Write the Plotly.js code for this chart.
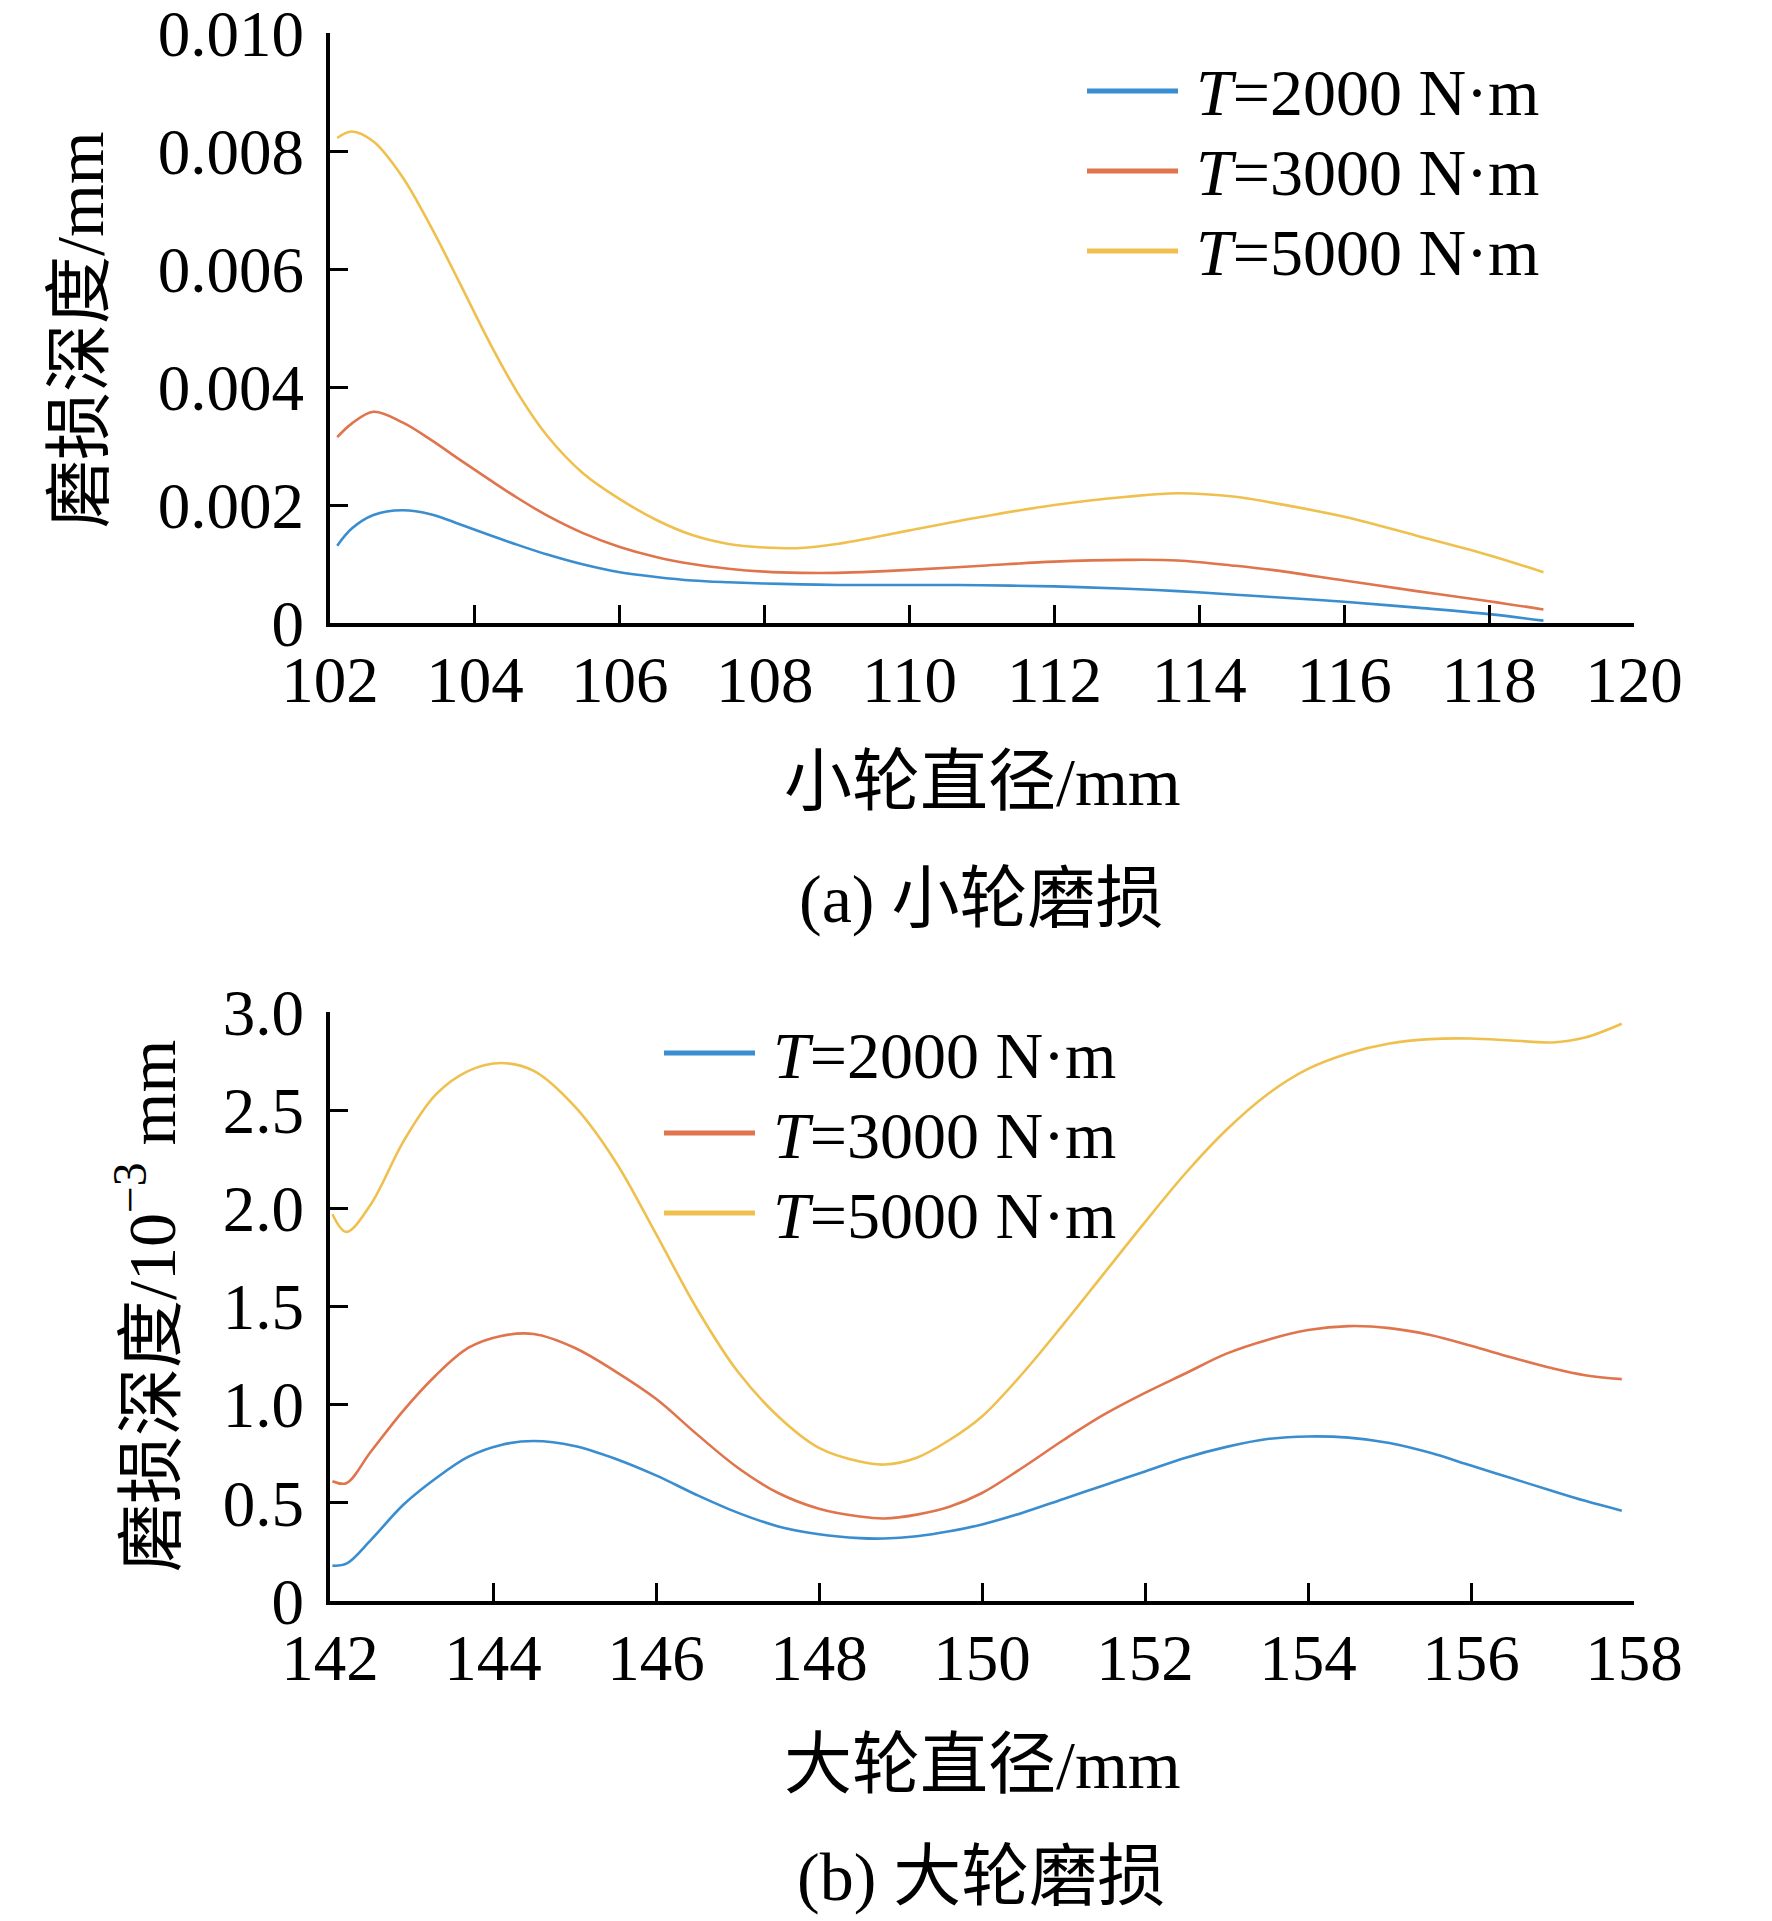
<!DOCTYPE html>
<html>
<head>
<meta charset="utf-8">
<script src="https://cdn.plot.ly/plotly-3.0.1.min.js"></script>
<style>
  html, body { margin: 0; padding: 0; background: #fff; }
  #chart { width: 1772px; height: 1921px; }
</style>
</head>
<body>
<div id="chart"></div>
<script>
// (a) small wheel: diameter (mm) vs wear depth (mm)
var smallD = [102.1, 102.3, 102.6, 103, 103.4, 103.8, 104.2, 104.6, 105, 105.5, 106, 106.5, 107, 107.5,
              108, 108.5, 109, 109.5, 110, 111, 112, 113, 113.7, 114.5, 115, 116, 117, 118, 118.75];
var small2000 = [0.00131, 0.00160, 0.00183, 0.00191, 0.00184, 0.00167, 0.00149, 0.00132, 0.00116, 0.00099,
                 0.00086, 0.00078, 0.00072, 0.00069, 0.00067, 0.000655, 0.000645, 0.000645, 0.000645, 0.00064,
                 0.00062, 0.00058, 0.00054, 0.00048, 0.00044, 0.00036, 0.00026, 0.00015, 0.00004];
var small3000 = [0.00315, 0.00338, 0.00358, 0.00340, 0.00310, 0.00276, 0.00243, 0.00211, 0.00182, 0.00152,
                 0.00129, 0.00112, 0.00100, 0.00092, 0.00087, 0.00085, 0.00085, 0.00087, 0.00090, 0.00097,
                 0.00104, 0.00107, 0.00106, 0.00097, 0.00090, 0.00072, 0.00054, 0.00037, 0.00023];
var small5000 = [0.00822, 0.00833, 0.00816, 0.00756, 0.00670, 0.00574, 0.00476, 0.00388, 0.00317, 0.00253,
                 0.00210, 0.00175, 0.00149, 0.00134, 0.00128, 0.00127, 0.00134, 0.00145, 0.00157, 0.00180,
                 0.00200, 0.00214, 0.00220, 0.00214, 0.00204, 0.00180, 0.00148, 0.00115, 0.00086];

// (b) large wheel: diameter (mm) vs wear depth (10^-3 mm)
var largeD = [142.03, 142.2, 142.5, 142.9, 143.3, 143.7, 144.1, 144.5, 145, 145.5, 146, 146.5, 147, 147.5,
              148, 148.5, 148.8, 149.2, 149.6, 150, 150.5, 151, 151.5, 152, 152.5, 153, 153.5, 154, 154.5,
              155, 155.5, 156, 156.5, 157, 157.4, 157.85];
var large2000 = [0.18, 0.19, 0.31, 0.49, 0.625, 0.735, 0.795, 0.815, 0.79, 0.725, 0.64, 0.54, 0.45, 0.38,
                 0.34, 0.32, 0.318, 0.33, 0.355, 0.39, 0.45, 0.52, 0.59, 0.66, 0.73, 0.785, 0.825, 0.838, 0.832,
                 0.805, 0.755, 0.69, 0.625, 0.56, 0.51, 0.46];
var large3000 = [0.61, 0.60, 0.76, 0.97, 1.15, 1.29, 1.35, 1.36, 1.29, 1.17, 1.03, 0.85, 0.68, 0.55,
                 0.47, 0.43, 0.42, 0.44, 0.48, 0.55, 0.68, 0.82, 0.95, 1.06, 1.16, 1.26, 1.33, 1.38, 1.40,
                 1.39, 1.355, 1.30, 1.24, 1.185, 1.15, 1.13];
var large5000 = [1.97, 1.88, 2.02, 2.34, 2.58, 2.70, 2.74, 2.70, 2.52, 2.24, 1.87, 1.49, 1.17, 0.94,
                 0.78, 0.71, 0.695, 0.73, 0.82, 0.94, 1.16, 1.41, 1.67, 1.93, 2.18, 2.40, 2.58, 2.71, 2.79,
                 2.84, 2.862, 2.865, 2.855, 2.845, 2.87, 2.94];

var torques = [2000, 3000, 5000];
var colors = ['#3a8dcf', '#e0744c', '#efc04e'];

var smallTickVals = [0, 0.002, 0.004, 0.006, 0.008, 0.010];
var smallTickText = ['0', '0.002', '0.004', '0.006', '0.008', '0.010'];
var largeTickVals = [0, 0.5, 1.0, 1.5, 2.0, 2.5, 3.0];
var largeTickText = ['0', '0.5', '1.0', '1.5', '2.0', '2.5', '3.0'];

var FONT = "'Liberation Serif', 'Noto Sans CJK SC', serif";

var smallSeries = [small2000, small3000, small5000];
var largeSeries = [large2000, large3000, large5000];

var data = [];
for (var i = 0; i < 3; i++) {
    data.push({
        x: smallD, y: smallSeries[i], xaxis: 'x', yaxis: 'y',
        mode: 'lines', line: {color: colors[i], width: 2.6, shape: 'spline', smoothing: 1},
        name: 'T=' + torques[i], showlegend: false, hoverinfo: 'skip'
    });
}
for (var i = 0; i < 3; i++) {
    data.push({
        x: largeD, y: largeSeries[i], xaxis: 'x2', yaxis: 'y2',
        mode: 'lines', line: {color: colors[i], width: 2.6, shape: 'spline', smoothing: 1},
        name: 'T=' + torques[i], showlegend: false, hoverinfo: 'skip'
    });
}

function axisBase() {
    return {
        showline: true, linecolor: '#000', linewidth: 4,
        ticks: 'inside', ticklen: 18, tickwidth: 3, tickcolor: '#000',
        showgrid: false, zeroline: false, fixedrange: true,
        ticklabeloverflow: 'allow',
        tickfont: {family: FONT, size: 65, color: '#000'}
    };
}

var W = 1772, H = 1921;
var xDom = [330 / W, 1634 / W];

var xa = axisBase(); xa.domain = xDom; xa.range = [102, 120]; xa.tickvals = [102,104,106,108,110,112,114,116,118,120]; xa.anchor = 'y'; xa.ticklabelstandoff = -3;
var ya = axisBase(); ya.domain = [1 - 623 / H, 1 - 33 / H]; ya.range = [0, 0.010]; ya.tickvals = smallTickVals; ya.ticktext = smallTickText; ya.anchor = 'x'; ya.ticklabelstandoff = 9;
var xa2 = axisBase(); xa2.domain = xDom; xa2.range = [142, 158]; xa2.tickvals = [142,144,146,148,150,152,154,156,158]; xa2.anchor = 'y2'; xa2.ticklabelstandoff = -3;
var ya2 = axisBase(); ya2.domain = [1 - 1601 / H, 1 - 1012 / H]; ya2.range = [0, 3.0]; ya2.tickvals = largeTickVals; ya2.ticktext = largeTickText; ya2.anchor = 'x2'; ya2.ticklabelstandoff = 9;

function txt(text, x, y, opts) {
    var a = {
        text: text, x: x / W, y: 1 - y / H, xref: 'paper', yref: 'paper',
        showarrow: false, font: {family: FONT, size: 68, color: '#000'},
        xanchor: 'center', yanchor: 'middle'
    };
    for (var k in (opts || {})) a[k] = opts[k];
    return a;
}

var annotations = [
    txt('磨损深度/mm', 80, 330, {textangle: -90}),
    txt('小轮直径/mm', 982, 782),
    txt('(a) 小轮磨损', 981, 899),
    txt('磨损深度/10<sup>−3</sup> mm', 147, 1306, {textangle: -90}),
    txt('大轮直径/mm', 982, 1765),
    txt('(b) 大轮磨损', 981, 1877)
];
var shapes = [];

// legends drawn as short line samples plus labels
var legendTop = {x0: 1087, x1: 1178, tx: 1194, rows: [91, 171, 251]};
var legendBottom = {x0: 664, x1: 755, tx: 771, rows: [1053, 1133, 1213]};
[legendTop, legendBottom].forEach(function (lg) {
    for (var i = 0; i < 3; i++) {
        shapes.push({
            type: 'line', xref: 'paper', yref: 'paper',
            x0: lg.x0 / W, x1: lg.x1 / W, y0: 1 - lg.rows[i] / H, y1: 1 - lg.rows[i] / H,
            line: {color: colors[i], width: 5}
        });
        annotations.push(txt('<i>T</i>=' + torques[i] + ' N·m', lg.tx, lg.rows[i] + 2,
                             {xanchor: 'left', font: {family: FONT, size: 66, color: '#000'}}));
    }
});

var layout = {
    width: W, height: H,
    margin: {l: 0, r: 0, t: 0, b: 0},
    paper_bgcolor: '#fff', plot_bgcolor: 'rgba(0,0,0,0)',
    showlegend: false,
    xaxis: xa, yaxis: ya, xaxis2: xa2, yaxis2: ya2,
    annotations: annotations, shapes: shapes
};

Plotly.newPlot('chart', data, layout, {staticPlot: true, displayModeBar: false});
</script>
</body>
</html>
